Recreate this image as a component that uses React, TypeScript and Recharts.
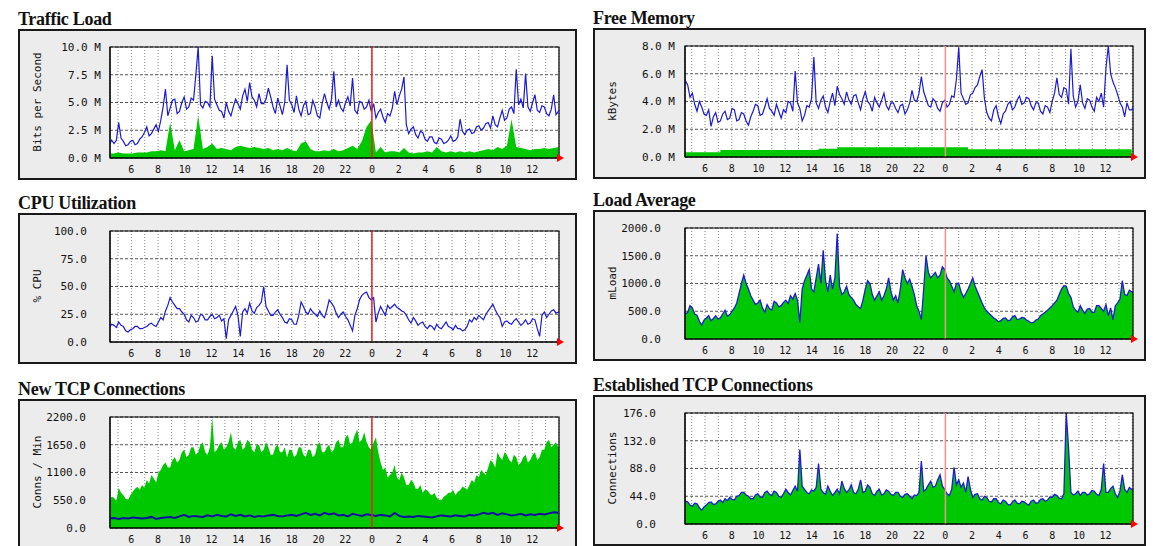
import React from 'react';
import {
  ComposedChart,
  Area,
  Line,
  XAxis,
  YAxis,
  CartesianGrid,
  ReferenceLine,
  ReferenceArea,
  ReferenceDot,
} from 'recharts';

// hours run from ~04:20 on day one past midnight (24) to ~14:00 on day two
const START_HOUR = 4.35;
const FINE_STEP = 0.175; // dense samples
const COARSE_STEP = 0.35; // coarse samples
const hourTicks = [5, 6, 7, 8, 9, 10, 11, 12, 13, 14, 15, 16, 17, 18, 19, 20, 21, 22, 23, 24, 25, 26, 27, 28, 29, 30, 31, 32, 33, 34, 35, 36, 37, 38];

// Traffic Load (M bits/s), fine
const trafficIn = [
  1.2, 1.6,
  1.3, 1.6, 3.2, 1.8, 1.5, 1.1, 1.2, 1.5, 1.6, 1.2, 1.3, 1.7, 1.9, 2.3, 2.8, 2.0, 2.2, 2.6, 3.0, 2.4, 3.4, 4.6, 6.2, 3.8,
  4.5, 5.2, 5.3, 4.0, 4.2, 5.0, 5.5, 4.4, 4.6, 5.4, 5.2, 7.5, 10.0, 4.8, 4.5, 5.1, 5.0, 4.6, 9.2, 5.3, 4.8, 4.3, 4.2, 3.6,
  5.0, 4.2, 3.8, 4.6, 5.3, 4.9, 4.4, 5.6, 6.2, 5.1, 6.8, 5.5, 5.2, 4.6, 5.8, 4.9, 4.9, 5.3, 6.3, 5.5, 4.6, 4.0, 5.4, 4.7,
  3.9, 5.0, 8.4, 5.2, 4.8, 4.1, 5.6, 4.4, 3.8, 4.7, 5.1, 3.9, 4.0, 5.2, 4.6, 3.8, 3.6, 4.9, 5.8, 5.0, 4.4, 5.3, 7.8, 4.6,
  5.2, 4.5, 4.2, 5.0, 5.5, 4.7, 7.2, 4.3, 4.0, 5.1, 5.0, 4.4, 4.6, 5.2, 4.2, 4.9, 3.6, 4.1, 4.4, 3.7, 3.2, 4.0, 3.8, 4.5,
  6.0, 4.8, 5.6, 6.2, 7.3, 3.0, 2.2, 2.6, 2.8, 2.1, 1.8, 2.4, 2.3, 1.7, 1.5, 1.9, 1.9, 1.4, 1.3, 1.8, 1.7, 1.3, 1.4, 1.6,
  2.0, 1.5, 1.6, 1.9, 3.5, 2.4, 2.1, 2.5, 2.6, 2.2, 2.3, 2.8, 2.9, 2.5, 2.7, 3.1, 3.2, 2.7, 3.8, 3.0, 2.8, 3.6, 4.3, 3.4,
  3.6, 4.4, 4.6, 4.0, 8.0, 4.8, 5.3, 4.5, 7.6, 4.6, 4.2, 5.0, 5.7, 4.3, 4.1, 4.7, 4.6, 4.0, 3.8, 4.4, 5.7, 3.9, 4.2, 4.6,
];
// coarse
const trafficOut = [
  0.4,
  0.4, 0.5, 0.4, 0.4, 0.4, 0.5, 0.5, 0.5, 0.6, 0.6, 0.7, 0.6,
  3.2, 0.7, 1.6, 0.6, 0.7, 0.8, 3.8, 0.8, 1.0, 1.3, 0.8, 0.9,
  0.8, 0.7, 1.0, 1.1, 1.0, 0.9, 1.0, 0.9, 0.8, 0.9, 0.7, 0.8,
  0.7, 0.9, 0.7, 0.6, 1.3, 1.5, 0.8, 0.6, 0.6, 0.7, 0.6, 0.8,
  0.6, 0.7, 0.9, 1.1, 0.8, 1.5, 2.8, 3.4, 0.5, 1.0, 0.5, 0.6,
  0.6, 0.5, 0.9, 0.5, 0.4, 0.5, 0.5, 0.6, 0.5, 1.0, 0.6, 0.5,
  0.6, 0.5, 0.6, 0.5, 0.6, 0.5, 0.6, 0.7, 0.8, 0.7, 1.0, 0.8,
  1.1, 3.5, 1.0, 0.9, 0.8, 0.7, 0.8, 0.8, 0.9, 0.8, 0.9, 1.0,
];

// Free Memory (M kBytes), fine
const memFree = [
  4.2, 5.5,
  5.2, 4.3, 4.6, 3.8, 3.3, 4.0, 3.6, 3.1, 3.0, 3.4, 2.2, 2.9, 3.2, 2.5, 2.6, 3.1, 3.3, 2.7, 2.8, 3.5, 3.4, 2.6, 2.7, 3.2,
  3.1, 2.6, 2.3, 2.9, 3.3, 3.8, 3.7, 3.0, 3.1, 3.6, 4.2, 3.5, 3.3, 3.0, 3.8, 3.3, 2.8, 3.4, 3.2, 4.0, 3.9, 3.3, 6.2, 3.9,
  3.5, 2.6, 3.0, 3.7, 3.6, 4.2, 7.2, 3.9, 3.5, 4.1, 4.4, 3.6, 3.2, 4.0, 4.6, 3.7, 5.1, 4.5, 4.2, 3.8, 4.7, 4.1, 3.8, 4.4,
  4.5, 3.9, 3.4, 4.2, 4.7, 4.0, 3.8, 3.3, 4.3, 3.9, 3.6, 4.1, 4.6, 3.7, 3.4, 3.9, 3.9, 3.5, 3.2, 3.7, 3.8, 3.1, 3.4, 3.9,
  4.8, 4.1, 4.0, 4.6, 5.8, 4.7, 4.2, 3.7, 3.6, 4.2, 4.0, 3.5, 3.3, 3.9, 4.1, 3.6, 3.8, 4.4, 4.3, 5.6, 7.9, 4.6, 4.2, 3.8,
  3.9, 4.5, 4.6, 5.0, 5.2, 5.8, 6.3, 4.2, 3.2, 2.8, 2.6, 3.4, 3.7, 2.9, 2.4, 3.1, 3.3, 3.8, 4.0, 3.4, 3.6, 4.1, 4.4, 3.8,
  3.9, 4.3, 4.2, 3.7, 3.4, 3.9, 3.9, 3.3, 3.1, 3.7, 3.6, 3.2, 4.0, 4.6, 5.7, 4.5, 4.3, 5.0, 4.9, 3.8, 7.8, 4.4, 3.6, 4.0,
  5.2, 3.9, 3.5, 4.2, 4.1, 3.6, 3.3, 4.3, 4.0, 4.6, 3.6, 6.4, 8.0, 6.0, 5.4, 5.0, 4.5, 3.9, 3.6, 2.9, 3.9, 3.4, 3.4, 3.7,
];
// coarse
const memSwap = [
  0.35,
  0.35, 0.35, 0.35, 0.35, 0.35, 0.35, 0.35, 0.5, 0.5, 0.5, 0.5, 0.5,
  0.5, 0.5, 0.5, 0.5, 0.5, 0.5, 0.5, 0.5, 0.5, 0.5, 0.5, 0.5,
  0.5, 0.5, 0.5, 0.5, 0.6, 0.6, 0.6, 0.6, 0.7, 0.7, 0.7, 0.7,
  0.7, 0.7, 0.7, 0.7, 0.7, 0.7, 0.7, 0.7, 0.7, 0.7, 0.7, 0.7,
  0.7, 0.7, 0.7, 0.7, 0.7, 0.7, 0.7, 0.7, 0.7, 0.7, 0.7, 0.7,
  0.55, 0.55, 0.55, 0.55, 0.55, 0.55, 0.55, 0.55, 0.55, 0.55, 0.55, 0.55,
  0.55, 0.55, 0.55, 0.55, 0.55, 0.55, 0.55, 0.55, 0.55, 0.55, 0.55, 0.55,
  0.55, 0.55, 0.55, 0.55, 0.55, 0.55, 0.55, 0.55, 0.55, 0.55, 0.55, 0.55,
];

// CPU Utilization (%), fine
const cpu = [
  13, 16,
  15, 13, 18, 15, 14, 10, 9, 11, 12, 14, 14, 12, 12, 13, 14, 16, 17, 15, 14, 18, 22, 20, 28, 33,
  40, 36, 33, 30, 30, 27, 25, 20, 18, 24, 22, 18, 19, 25, 24, 20, 20, 23, 25, 21, 22, 24, 19, 21,
  3, 20, 24, 28, 32, 24, 5, 27, 30, 26, 35, 28, 26, 31, 33, 36, 50, 32, 28, 24, 24, 27, 29, 25,
  22, 18, 17, 21, 20, 16, 16, 24, 36, 32, 27, 25, 30, 27, 25, 23, 28, 24, 22, 29, 38, 35, 32, 26,
  22, 25, 27, 23, 20, 15, 10, 24, 30, 38, 42, 44, 45, 40, 38, 40, 18, 26, 32, 28, 24, 33, 30, 32,
  34, 31, 30, 28, 27, 24, 20, 17, 22, 19, 15, 17, 18, 14, 12, 15, 14, 11, 16, 13, 12, 15, 18, 14,
  13, 11, 15, 12, 12, 10, 11, 14, 20, 18, 22, 20, 24, 22, 20, 25, 28, 31, 34, 29, 25, 22, 14, 18,
  19, 17, 16, 19, 21, 18, 15, 17, 20, 16, 17, 21, 20, 12, 5, 24, 27, 22, 25, 28, 29, 26, 27, 28,
];

// Load Average (mLoad), fine
const loadAvg = [
  520, 450,
  480, 600, 560, 450, 430, 320, 250, 340, 380, 420, 330, 370, 420, 360, 380, 450, 520, 410, 440, 500, 560, 650, 820, 1000,
  1150, 1000, 900, 780, 700, 620, 650, 700, 560, 480, 620, 550, 520, 680, 650, 580, 600, 660, 700, 640, 780, 720, 820, 700,
  300, 900, 1050, 1150, 1250, 900, 850, 1100, 1350, 1000, 1600, 1050, 850, 1150, 900, 1100, 1900, 950, 800, 850, 950, 800, 750, 700,
  620, 580, 550, 700, 900, 1050, 1000, 800, 700, 780, 850, 700, 780, 900, 1100, 850, 700, 780, 650, 900, 1250, 1100, 1000, 1080,
  950, 800, 600, 500, 350, 900, 1500, 1200, 1100, 1150, 1200, 1100, 1150, 1300, 1250, 1100, 1050, 950, 850, 1000, 1000, 850, 750, 820,
  900, 1000, 1100, 950, 850, 750, 650, 560, 500, 460, 420, 380, 350, 310, 330, 370, 380, 330, 340, 400, 420, 350, 360, 390,
  380, 340, 320, 290, 300, 340, 360, 420, 450, 480, 520, 560, 600, 650, 700, 800, 900, 960, 950, 820, 750, 580, 520, 480,
  600, 520, 460, 540, 550, 480, 480, 600, 600, 550, 500, 620, 420, 560, 350, 600, 650, 720, 1050, 800, 780, 880, 850, 820,
];

// New TCP Connections (conns / min), fine
const newConns = [
  550, 620,
  600, 520, 800, 700, 650, 580, 560, 650, 720, 780, 820, 760, 850, 800, 950, 880, 1050, 980, 900, 1100, 1150, 1250, 1300, 1200,
  1200, 1350, 1400, 1300, 1350, 1500, 1550, 1400, 1450, 1600, 1600, 1450, 1500, 1650, 1700, 1500, 1450, 1600, 2200, 1500, 1550, 1650, 1700, 1550,
  1600, 1700, 1900, 1600, 1550, 1700, 1750, 1550, 1600, 1750, 1700, 1550, 1500, 1650, 1650, 1500, 1550, 1700, 1600, 1450, 1450, 1600, 1650, 1500,
  1500, 1600, 1400, 1550, 1550, 1400, 1450, 1600, 1600, 1450, 1400, 1550, 1550, 1400, 1450, 1650, 1700, 1500, 1500, 1600, 1650, 1500, 1550, 1700,
  1750, 1600, 1600, 1800, 1850, 1650, 1700, 1850, 1950, 1700, 1750, 1900, 1700, 1600, 1550, 1700, 1800, 1500, 1300, 1150, 1200, 1000, 1050, 1100,
  1250, 1000, 950, 1100, 1000, 850, 850, 950, 900, 780, 780, 850, 700, 760, 750, 680, 650, 700, 600, 560, 550, 620, 650, 700,
  700, 760, 650, 720, 750, 820, 800, 760, 850, 950, 900, 1050, 1000, 1150, 1100, 1050, 1200, 1350, 1300, 1200, 1500, 1400, 1350, 1500,
  1450, 1350, 1300, 1450, 1400, 1250, 1300, 1400, 1450, 1300, 1350, 1450, 1500, 1350, 1400, 1550, 1550, 1700, 1750, 1600, 1650, 1700, 1600, 1650,
];
// coarse
const newConnsLow = [
  190,
  200, 180, 200, 190, 210, 200, 190, 200, 220, 180, 200, 210,
  220, 200, 230, 260, 220, 240, 230, 220, 250, 230, 260, 240,
  230, 270, 240, 260, 230, 250, 220, 240, 230, 250, 260, 240,
  230, 250, 260, 240, 270, 300, 260, 280, 250, 300, 270, 290,
  250, 260, 230, 280, 260, 240, 270, 260, 240, 260, 250, 230,
  300, 240, 220, 230, 220, 240, 230, 220, 210, 230, 250, 240,
  230, 250, 240, 230, 260, 250, 270, 300, 280, 300, 260, 290,
  270, 250, 260, 280, 250, 270, 260, 280, 270, 290, 310, 300,
];

// Established TCP Connections, fine
const established = [
  30, 36,
  35, 30, 28, 33, 32, 26, 22, 27, 30, 34, 35, 31, 32, 36, 38, 34, 40, 37, 42, 39, 38, 44, 45, 50,
  50, 46, 44, 40, 40, 46, 48, 43, 42, 50, 52, 47, 45, 52, 50, 44, 42, 48, 55, 50, 46, 53, 60, 52,
  118, 60, 55, 50, 48, 54, 52, 58, 96, 55, 50, 47, 60, 52, 45, 50, 55, 48, 68, 56, 50, 54, 62, 50,
  48, 55, 70, 50, 52, 62, 58, 48, 45, 52, 55, 46, 48, 54, 52, 47, 45, 50, 50, 44, 42, 47, 48, 44,
  40, 46, 45, 50, 100, 52, 55, 62, 68, 58, 60, 70, 78, 60, 55, 48, 45, 55, 90, 62, 70, 58, 65, 50,
  75, 55, 42, 47, 48, 40, 38, 44, 42, 36, 35, 40, 40, 34, 32, 38, 36, 31, 30, 35, 38, 33, 32, 36,
  35, 32, 30, 36, 38, 33, 34, 39, 40, 36, 38, 43, 42, 47, 45, 41, 40, 48, 176, 120, 50, 46, 48, 52,
  45, 50, 50, 46, 48, 53, 52, 47, 45, 55, 96, 50, 50, 56, 60, 48, 42, 52, 78, 55, 50, 58, 55, 52,
];

const GREEN = '#00c800';
const BLUE = '#1a1ad8';
const BOX_H = 151;
const MONO = '"DejaVu Sans Mono", monospace';

function buildRows(step: number, cols: Record<string, number[]>) {
  const keys = Object.keys(cols);
  const n = cols[keys[0]].length;
  const rows: Record<string, number>[] = [];
  for (let i = 0; i < n; i++) {
    const row: Record<string, number> = { hour: START_HOUR + i * step };
    keys.forEach((k) => { row[k] = cols[k][i]; });
    rows.push(row);
  }
  return rows;
}

const Arrow = (p: any) => (
  <path d={`M${p.cx - 2},${p.cy - 4} L${p.cx + 5},${p.cy} L${p.cx - 2},${p.cy + 4} Z`} fill="#f00" />
);

const xTickStyle = { fill: '#111', fontSize: 10, fontFamily: MONO };
const yTickStyle = { fill: '#111', fontSize: 11, fontFamily: MONO };

function Panel({
  title, left, top, width, rightM, xMin, xMax, yLabel, yMax, yTicks, fmt, tickGap, red, rows, children,
}: {
  title: string; left: number; top: number; width: number; rightM: number; xMin: number; xMax: number;
  yLabel: string; yMax: number; yTicks: number[]; fmt: (v: number) => string;
  tickGap: number; red: string; rows: Record<string, number>[]; children: React.ReactNode;
}) {
  return (
    <>
      <div
        style={{
          position: 'absolute', left, top: top - 19, fontFamily: '"Liberation Serif", serif',
          fontWeight: 700, fontSize: 18, lineHeight: '18px', letterSpacing: -0.3, color: '#111', whiteSpace: 'nowrap',
        }}
      >
        {title}
      </div>
      <div
        style={{
          position: 'absolute', left, top, width, height: BOX_H, boxSizing: 'border-box',
          border: '2px solid #1a1a1a', background: '#ececec',
        }}
      >
        <div
          style={{
            position: 'absolute', left: 19 - 2, top: 18 + 55 - 2, transform: 'translate(-50%, -50%) rotate(-90deg)',
            fontFamily: MONO, fontSize: 11, color: '#111', whiteSpace: 'nowrap',
          }}
        >
          {yLabel}
        </div>
        <div style={{ position: 'absolute', left: -2, top: -2 }}>
          <ComposedChart width={width} height={BOX_H} data={rows} margin={{ top: 18, right: rightM, bottom: 0, left: 0 }}>
            <CartesianGrid horizontal={false} fill="#fff" stroke="#888" strokeDasharray="1 2" />
            <CartesianGrid vertical={false} stroke="#555" strokeDasharray="3 2" />
            <XAxis
              dataKey="hour"
              type="number"
              domain={[xMin, xMax]}
              ticks={hourTicks}
              interval={0}
              allowDataOverflow
              height={22}
              tickLine={false}
              tickSize={0}
              tickMargin={8}
              axisLine={{ stroke: '#000' }}
              tick={xTickStyle}
              tickFormatter={(h: number) => (h % 2 === 0 && h <= 36 ? String(h % 24) : '')}
            />
            <YAxis
              type="number"
              domain={[0, yMax]}
              ticks={yTicks}
              interval={0}
              allowDataOverflow
              width={92}
              tickLine={false}
              tickSize={0}
              tickMargin={tickGap}
              axisLine={{ stroke: '#000' }}
              tick={yTickStyle}
              tickFormatter={fmt}
            />
            {children}
            <ReferenceLine x={24} stroke={red} strokeWidth={1.5} />
            <ReferenceArea x1={xMin} x2={xMax} y1={0} y2={yMax} fillOpacity={0} stroke="#000" strokeWidth={1.2} />
            <ReferenceDot x={xMax} y={0} ifOverflow="visible" shape={Arrow} />
          </ComposedChart>
        </div>
      </div>
    </>
  );
}

export default function App() {
  const trafficRows = buildRows(FINE_STEP, { inb: trafficIn });
  const trafficOutRows = buildRows(COARSE_STEP, { outb: trafficOut });
  const memRows = buildRows(FINE_STEP, { free: memFree });
  const swapRows = buildRows(COARSE_STEP, { swap: memSwap });
  const cpuRows = buildRows(FINE_STEP, { cpu });
  const loadRows = buildRows(FINE_STEP, { load: loadAvg });
  const newRows = buildRows(FINE_STEP, { conns: newConns });
  const lowRows = buildRows(COARSE_STEP, { low: newConnsLow });
  const estRows = buildRows(FINE_STEP, { est: established });

  const L = { left: 18, width: 559, rightM: 18, xMin: 4.4, xMax: 38.0 };
  const R = { left: 593, width: 553, rightM: 13, xMin: 4.5, xMax: 38.05 };

  return (
    <div style={{ position: 'absolute', left: 0, top: 0, width: 1160, height: 546, background: '#fff', overflow: 'hidden' }}>
      <Panel
        {...L} title="Traffic Load" top={29}
        yLabel="Bits per Second" yMax={10} yTicks={[0, 2.5, 5, 7.5, 10]}
        fmt={(v) => `${v.toFixed(1)} M`} tickGap={9} red="#ee2020" rows={trafficRows}
      >
        <Area data={trafficOutRows} dataKey="outb" type="linear" fill={GREEN} fillOpacity={1} stroke="none" isAnimationActive={false} />
        <Line dataKey="inb" type="linear" stroke={BLUE} strokeWidth={1.2} dot={false} isAnimationActive={false} />
      </Panel>
      <Panel
        {...R} title="Free Memory" top={28}
        yLabel="kBytes" yMax={8} yTicks={[0, 2, 4, 6, 8]}
        fmt={(v) => `${v.toFixed(1)} M`} tickGap={10} red="#f59090" rows={memRows}
      >
        <Area data={swapRows} dataKey="swap" type="stepAfter" fill={GREEN} fillOpacity={1} stroke="none" isAnimationActive={false} />
        <Line dataKey="free" type="linear" stroke={BLUE} strokeWidth={1.2} dot={false} isAnimationActive={false} />
      </Panel>
      <Panel
        {...L} title="CPU Utilization" top={213}
        yLabel="% CPU" yMax={100} yTicks={[0, 25, 50, 75, 100]}
        fmt={(v) => v.toFixed(1)} tickGap={23} red="#ee2020" rows={cpuRows}
      >
        <Line dataKey="cpu" type="linear" stroke={BLUE} strokeWidth={1.2} dot={false} isAnimationActive={false} />
      </Panel>
      <Panel
        {...R} title="Load Average" top={210}
        yLabel="mLoad" yMax={2000} yTicks={[0, 500, 1000, 1500, 2000]}
        fmt={(v) => v.toFixed(1)} tickGap={24} red="#f59090" rows={loadRows}
      >
        <Area dataKey="load" type="linear" fill={GREEN} fillOpacity={1} stroke={BLUE} strokeWidth={1.3} isAnimationActive={false} />
      </Panel>
      <Panel
        {...L} title="New TCP Connections" top={399}
        yLabel="Conns / Min" yMax={2200} yTicks={[0, 550, 1100, 1650, 2200]}
        fmt={(v) => v.toFixed(1)} tickGap={24} red="#ee2020" rows={newRows}
      >
        <Area dataKey="conns" type="linear" fill={GREEN} fillOpacity={1} stroke="none" isAnimationActive={false} />
        <Line data={lowRows} dataKey="low" type="linear" stroke="#1010a0" strokeWidth={2} dot={false} isAnimationActive={false} />
      </Panel>
      <Panel
        {...R} title="Established TCP Connections" top={395}
        yLabel="Connections" yMax={176} yTicks={[0, 44, 88, 132, 176]}
        fmt={(v) => v.toFixed(1)} tickGap={29} red="#f59090" rows={estRows}
      >
        <Area dataKey="est" type="linear" fill={GREEN} fillOpacity={1} stroke={BLUE} strokeWidth={1.3} isAnimationActive={false} />
      </Panel>
    </div>
  );
}
